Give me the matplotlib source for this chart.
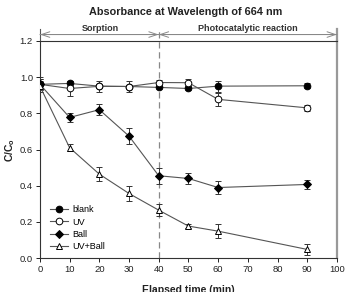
import matplotlib
matplotlib.use("Agg")
import matplotlib.pyplot as plt
from matplotlib.lines import Line2D
import numpy as np

plt.rcParams['font.family'] = ['Liberation Sans', 'DejaVu Sans']

time = [0, 10, 20, 30, 40, 50, 60, 90]
blank = [0.96, 0.965, 0.95, 0.948, 0.943, 0.937, 0.95, 0.952]
blank_err = [0.04, 0.015, 0.01, 0.01, 0.01, 0.01, 0.03, 0.015]
uv = [0.96, 0.937, 0.949, 0.948, 0.97, 0.969, 0.877, 0.83]
uv_err = [0.03, 0.04, 0.03, 0.03, 0.015, 0.02, 0.035, 0.015]
ball = [0.96, 0.777, 0.82, 0.674, 0.455, 0.44, 0.39, 0.407]
ball_err = [0.03, 0.025, 0.03, 0.045, 0.045, 0.03, 0.035, 0.025]
uvball = [0.95, 0.61, 0.464, 0.357, 0.265, 0.177, 0.149, 0.048]
uvball_err = [0.03, 0.02, 0.04, 0.04, 0.035, 0.01, 0.04, 0.03]

series = [
    ("blank", blank, blank_err, "o", "black"),
    ("UV", uv, uv_err, "o", "white"),
    ("Ball", ball, ball_err, "D", "black"),
    ("UV+Ball", uvball, uvball_err, "^", "white"),
]

fig = plt.figure(figsize=(3.47, 2.92), dpi=100)
ax = fig.add_axes([0.115, 0.116, 0.856, 0.744])

handles = []
for name, y, e, m, fc in series:
    ms = 4.0 if m == "D" else 4.8
    ax.errorbar(time, y, yerr=e, color="#555555", lw=0.8, marker=m, ms=ms,
                mfc=fc, mec="black", mew=0.7, ecolor="#333333", elinewidth=0.7,
                capsize=2.5, capthick=0.7, zorder=3)
    handles.append(Line2D([], [], color="#555555", lw=0.8, marker=m, ms=ms,
                          mfc=fc, mec="black", mew=0.7, label=name))

ax.set_xlim(0, 100)
ax.set_ylim(0, 1.2)
ax.set_xticks(np.arange(0, 101, 10))
ax.set_yticks(np.arange(0, 1.21, 0.2))
ax.set_yticklabels([f"{v:.1f}" for v in np.arange(0, 1.21, 0.2)])
ax.tick_params(labelsize=6.8, length=3, width=0.7, direction="out", pad=2, colors="#222222")
for s in ["left", "bottom", "top"]:
    ax.spines[s].set_linewidth(0.8)
    ax.spines[s].set_color("#333333")
ax.spines["right"].set_color("#999999")
ax.spines["right"].set_linewidth(1.6)

# dashed vertical line at 40
ax.plot([40, 40], [0, 1.265], ls=(0, (5, 3)), color="#888888", lw=0.9, clip_on=False, zorder=1)
# extended spines above
ax.plot([0, 0], [1.2, 1.265], color="#555555", lw=0.8, clip_on=False)
ax.plot([100, 100], [1.2, 1.265], color="#999999", lw=1.6, clip_on=False)

ya = 1.235
arrowprops = dict(arrowstyle="->,head_length=0.6,head_width=0.2", color="#888888", lw=0.7, shrinkA=0, shrinkB=0)
ax.annotate("", xy=(0, ya), xytext=(40, ya), arrowprops=arrowprops, annotation_clip=False)
ax.annotate("", xy=(40, ya), xytext=(0, ya), arrowprops=arrowprops, annotation_clip=False)
ax.annotate("", xy=(40, ya), xytext=(100, ya), arrowprops=arrowprops, annotation_clip=False)
ax.annotate("", xy=(100, ya), xytext=(40, ya), arrowprops=arrowprops, annotation_clip=False)
ax.text(20.5, 1.243, "Sorption", ha="center", va="bottom", fontsize=6.5, fontweight="bold", color="#333333")
ax.text(70, 1.243, "Photocatalytic reaction", ha="center", va="bottom", fontsize=6.5, fontweight="bold", color="#333333")

fig.text(0.535, 0.96, "Absorbance at Wavelength of 664 nm", ha="center", va="center",
         fontsize=7.8, fontweight="bold", color="#222222")
ax.set_xlabel("Elapsed time (min)", fontsize=7.5, fontweight="bold", labelpad=8, color="#222222")
ax.set_ylabel("C/C$_\\mathregular{o}$", fontsize=7.5, fontweight="bold", labelpad=2, color="#222222")

ax.legend(handles=handles, loc="lower left", bbox_to_anchor=(0.01, 0.0), frameon=False, fontsize=6.5,
          handlelength=2.0, handletextpad=0.5, labelspacing=0.35, borderpad=0.3)

fig.savefig("out.png", dpi=100)
